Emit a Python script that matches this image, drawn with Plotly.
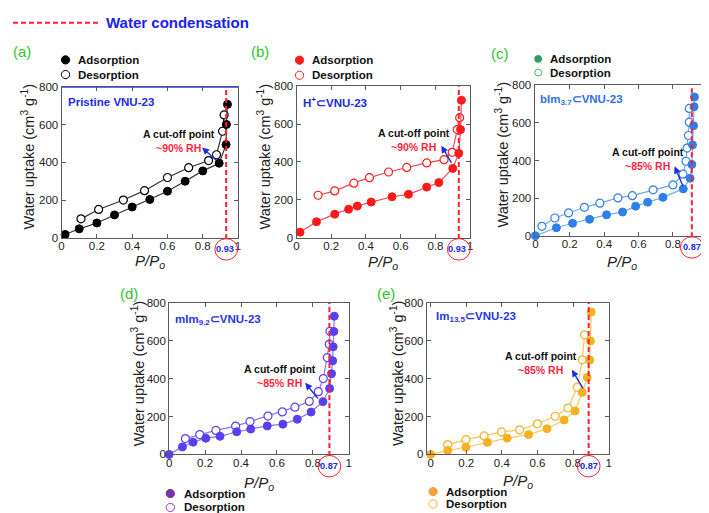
import plotly.graph_objects as go

W, H = 709, 513
FONT = "Arial, 'Liberation Sans', Helvetica, sans-serif"

# ---------------- data ----------------
# (a) Pristine VNU-23
a_ads_x = [0.02, 0.10, 0.20, 0.30, 0.40, 0.50, 0.60, 0.70, 0.80, 0.893, 0.932, 0.934, 0.94]
a_ads_y = [17, 47, 78, 121, 163, 203, 247, 300, 355, 396, 495, 602, 709]
a_des_x = [0.11, 0.21, 0.35, 0.47, 0.60, 0.72, 0.833, 0.878, 0.912, 0.921]
a_des_y = [100, 150, 200, 250, 320, 372, 410, 441, 566, 653]

# (b) H+ ⊂ VNU-23
b_ads_x = [0.02, 0.115, 0.22, 0.30, 0.35, 0.43, 0.55, 0.645, 0.75, 0.82, 0.90, 0.935, 0.945, 0.95]
b_ads_y = [29, 84, 124, 150, 167, 188, 216, 229, 267, 291, 366, 446, 571, 726]
b_des_x = [0.124, 0.22, 0.33, 0.42, 0.53, 0.635, 0.75, 0.85, 0.897, 0.926, 0.94]
b_des_y = [224, 247, 288, 317, 347, 371, 395, 412, 451, 571, 634]

# (c) bIm3.7 ⊂ VNU-23
c_ads_x = [0.0, 0.122, 0.216, 0.315, 0.414, 0.507, 0.583, 0.653, 0.742, 0.86, 0.90, 0.91, 0.914, 0.92, 0.923, 0.925]
c_ads_y = [0, 42, 66, 87, 111, 126, 157, 178, 204, 249, 305, 379, 483, 585, 686, 738]
c_des_x = [0.038, 0.113, 0.193, 0.285, 0.375, 0.48, 0.564, 0.685, 0.80, 0.858, 0.876, 0.882, 0.89, 0.895, 0.895]
c_des_y = [50, 94, 121, 151, 173, 201, 213, 244, 270, 327, 396, 466, 533, 604, 677]

# (d) mIm9.2 ⊂ VNU-23
d_ads_x = [0.0, 0.074, 0.133, 0.204, 0.283, 0.376, 0.454, 0.546, 0.633, 0.713, 0.79, 0.856, 0.893, 0.904, 0.91, 0.913, 0.917, 0.919]
d_ads_y = [0, 40, 65, 86, 96, 120, 134, 151, 160, 186, 224, 279, 349, 427, 495, 569, 650, 731]
d_des_x = [0.09, 0.17, 0.26, 0.37, 0.45, 0.55, 0.63, 0.70, 0.78, 0.83, 0.858, 0.88, 0.891, 0.895]
d_des_y = [84, 105, 127, 150, 174, 203, 225, 250, 280, 332, 401, 512, 582, 651]

# (e) Im13.5 ⊂ VNU-23
e_ads_x = [0.0, 0.096, 0.198, 0.319, 0.43, 0.55, 0.654, 0.75, 0.811, 0.852, 0.88, 0.894, 0.898, 0.902]
e_ads_y = [0, 21, 38, 64, 86, 105, 136, 182, 230, 328, 407, 499, 600, 753]
e_des_x = [0.096, 0.198, 0.30, 0.398, 0.50, 0.60, 0.70, 0.772, 0.824, 0.852, 0.865]
e_des_y = [52, 78, 98, 119, 130, 162, 202, 245, 355, 500, 632]

panel_letters = ["(a)", "(b)", "(c)", "(d)", "(e)"]
panel_names = ["Pristine VNU-23", "H<sup>+</sup>⊂VNU-23", "bIm<sub>3.7</sub>⊂VNU-23",
               "mIm<sub>9.2</sub>⊂VNU-23", "Im<sub>13.5</sub>⊂VNU-23"]
cutoff_x = [0.933, 0.935, 0.91, 0.892, 0.888]
cutoff_labels = ["0.93", "0.93", "0.87", "0.87", "0.87"]
cutoff_rh = ["~90% RH", "~90% RH", "~85% RH", "~85% RH", "~85% RH"]
x_ticks = [0, 0.2, 0.4, 0.6, 0.8, 1]
x_ticktext = ["0", "0.2", "0.4", "0.6", "0.8", "1"]
y_ticks = [0, 200, 400, 600, 800]
y_ticktext = ["0", "200", "400", "600", "800"]

# ---------------- styling / layout geometry (pixels) ----------------
panels = [
    dict(ax=a_ads_x, ay=a_ads_y, dx=a_des_x, dy=a_des_y, box=(51, 229, 75, 229), xr=[0, 1],
         col="#000000", line="#333333", leg=("#000000", "#000000"), msz=8, name_col="#1a2ae6",
         letter=(0, 38), legpos=(55, 66, 47, 62), namepos=(55, 90),
         cut=(169, 130), arrow=((192.7, 136.7), (208.3, 150.7)),
         ytitle=(17, 146), xtitle_y=253, lab_dx=-1.5),
    dict(ax=b_ads_x, ay=b_ads_y, dx=b_des_x, dy=b_des_y, box=(288, 463, 74, 229), xr=[0, 1],
         col="#ff1a1a", line="#f2485a", leg=("#ff1a1a", "#ff1a1a"), msz=8, name_col="#1a2ae6",
         letter=(240, 38), legpos=(291, 302, 47.3, 62.7), namepos=(292, 90),
         cut=(406, 129.5), arrow=((434, 135), (445, 153.3)),
         ytitle=(255, 146), xtitle_y=254, lab_dx=-2),
    dict(ax=c_ads_x, ay=c_ads_y, dx=c_des_x, dy=c_des_y, box=(528, 704, 73, 227), xr=[-0.005, 1.01],
         col="#2f7fe8", line="#6ea8f0", leg=("#2e9e62", "#3cb56e"), msz=8, name_col="#2f6fe6",
         letter=(482, 40), legpos=(531.7, 542, 46, 60), namepos=(532, 88),
         cut=(642, 148.5), arrow=((669.3, 156), (678.3, 177.3)),
         ytitle=(495, 144), xtitle_y=254, lab_dx=0),
    dict(ax=d_ads_x, ay=d_ads_y, dx=d_des_x, dy=d_des_y, box=(159.5, 340.7, 296, 451), xr=[0, 1],
         col="#5a3ff0", line="#8a72f2", leg=("#7a2ea8", "#8a44c8"), msz=8, name_col="#2a36e6",
         letter=(108, 286), legpos=(160.7, 172, 491, 505.3), namepos=(163, 313),
         cut=(271, 370.5), arrow=((296.7, 377.7), (310.7, 395)),
         ytitle=(128, 368), xtitle_y=481, lab_dx=0),
    dict(ax=e_ads_x, ay=e_ads_y, dx=e_des_x, dy=e_des_y, box=(419.3, 602.7, 296, 451), xr=[-0.022, 1],
         col="#f6b022", line="#f8c752", leg=("#f2a040", "#f2b233"), msz=8, name_col="#2a36e6",
         letter=(367, 286), legpos=(425.7, 437, 489, 501.7), namepos=(427, 310),
         cut=(535, 357.5), arrow=((565.7, 364.3), (577.7, 384.3)),
         ytitle=(390, 368), xtitle_y=479, lab_dx=0.5),
]


def PX(px):
    return px / W


def PY(py):
    return 1 - py / H


fig = go.Figure()
shapes = []
annotations = []
DASH = "5px,3px"

for i, p in enumerate(panels):
    sfx = "" if i == 0 else str(i + 1)
    xa, ya = "x" + sfx, "y" + sfx
    l, r, t, b = p["box"]

    fig.add_trace(go.Scatter(
        x=p["dx"], y=p["dy"], mode="lines+markers", xaxis=xa, yaxis=ya,
        line=dict(color=p["line"], width=1.2),
        marker=dict(size=p["msz"], color="white", line=dict(color=p["col"], width=1.2)),
        cliponaxis=False, showlegend=False, name="Desorption"))
    fig.add_trace(go.Scatter(
        x=p["ax"], y=p["ay"], mode="lines+markers", xaxis=xa, yaxis=ya,
        line=dict(color=p["line"], width=1.2),
        marker=dict(size=p["msz"], color=p["col"], line=dict(color=p["col"], width=1)),
        cliponaxis=False, showlegend=False, name="Adsorption"))

    axis_common = dict(showline=True, linecolor="#5a5a5a", linewidth=1, mirror="ticks",
                       ticks="inside", ticklen=4, tickcolor="#5a5a5a", showgrid=False,
                       zeroline=False, tickfont=dict(family=FONT, size=11.5, color="#222"))
    fig.update_layout(**{
        "xaxis" + sfx: dict(domain=[PX(l), PX(r)], range=p["xr"], anchor=ya,
                            tickvals=x_ticks, ticktext=x_ticktext, ticklabelstandoff=-2, **axis_common),
        "yaxis" + sfx: dict(domain=[PY(b), PY(t)], range=[0, 800], anchor=xa,
                            tickvals=y_ticks, ticktext=y_ticktext, **axis_common),
    })

    # data x -> pixel
    def dx2px(v, l=l, r=r, xr=p["xr"]):
        return l + (v - xr[0]) / (xr[1] - xr[0]) * (r - l)

    cx = dx2px(cutoff_x[i])
    cy = b + 12
    # red dashed condensation line
    shapes.append(dict(type="line", xref="paper", yref="paper", x0=PX(cx), x1=PX(cx),
                       y0=PY(b + 1.5), y1=PY(t), line=dict(color="#ff1f2f", width=2, dash=DASH)))
    # circle around cut-off value
    shapes.append(dict(type="circle", xref="paper", yref="paper",
                       x0=PX(cx - 11.5), x1=PX(cx + 11.5), y0=PY(cy + 11), y1=PY(cy - 11),
                       line=dict(color="#ff1f2f", width=1)))
    annotations.append(dict(text="<b>%s</b>" % cutoff_labels[i], xref="paper", yref="paper",
                            x=PX(cx + p["lab_dx"]), y=PY(cy - 0.5), showarrow=False,
                            xanchor="center", yanchor="middle",
                            font=dict(family=FONT, size=9.2, color="#1a2ae6")))

    # panel letter
    lx, ly = p["letter"]
    annotations.append(dict(text=panel_letters[i], xref="paper", yref="paper", x=PX(lx), y=PY(ly),
                            xanchor="left", yanchor="middle", showarrow=False,
                            font=dict(family=FONT, size=15, color="#2cc62c")))
    # legend (drawn)
    mx, tx, y1, y2 = p["legpos"]
    rr = 4.2 if i != 2 else 3.5
    shapes.append(dict(type="circle", xref="paper", yref="paper", x0=PX(mx - rr), x1=PX(mx + rr),
                       y0=PY(y1 + rr), y1=PY(y1 - rr), fillcolor=p["leg"][0],
                       line=dict(color=p["leg"][0], width=1)))
    shapes.append(dict(type="circle", xref="paper", yref="paper", x0=PX(mx - rr), x1=PX(mx + rr),
                       y0=PY(y2 + rr), y1=PY(y2 - rr), fillcolor="white",
                       line=dict(color=p["leg"][1], width=1)))
    for txt, yy in (("Adsorption", y1), ("Desorption", y2)):
        annotations.append(dict(text="<b>%s</b>" % txt, xref="paper", yref="paper", x=PX(tx), y=PY(yy),
                                xanchor="left", yanchor="middle", showarrow=False,
                                font=dict(family=FONT, size=11.5, color="#111")))
    # sample name
    nx, ny = p["namepos"]
    annotations.append(dict(text="<b>%s</b>" % panel_names[i], xref="paper", yref="paper",
                            x=PX(nx), y=PY(ny), xanchor="left", yanchor="middle", showarrow=False,
                            font=dict(family=FONT, size=11.5, color=p["name_col"])))
    # cut-off point text (two coloured lines)
    annotations.append(dict(text="<b>A cut-off point</b><br><b><span style='color:#ff1f3f'>%s</span></b>"
                                 % cutoff_rh[i], xref="paper", yref="paper",
                            x=PX(p["cut"][0]), y=PY(p["cut"][1]), xanchor="center", yanchor="middle",
                            align="center", showarrow=False,
                            font=dict(family=FONT, size=10.5, color="#111")))
    (tipx, tipy), (tailx, taily) = p["arrow"]
    annotations.append(dict(text="", xref="paper", yref="paper", x=PX(tipx), y=PY(tipy),
                            ax=tailx - tipx, ay=taily - tipy, axref="pixel", ayref="pixel",
                            showarrow=True, arrowhead=2, arrowsize=1, arrowwidth=1.4,
                            arrowcolor="#1530e0"))
    # axis titles
    yx, yy = p["ytitle"]
    annotations.append(dict(text="Water uptake (cm<sup>3</sup> g<sup>-1</sup>)", xref="paper", yref="paper",
                            x=PX(yx), y=PY(yy), xanchor="center", yanchor="middle", textangle=-90,
                            showarrow=False, font=dict(family=FONT, size=14.5, color="#222")))
    annotations.append(dict(text="<i>P/P<sub>o</sub></i>", xref="paper", yref="paper",
                            x=PX((l + r) / 2), y=PY(p["xtitle_y"]), xanchor="center", yanchor="middle",
                            showarrow=False, font=dict(family=FONT, size=15, color="#222")))

# blue top border of panel (a)
l, r, t, b = panels[0]["box"]
shapes.append(dict(type="line", xref="paper", yref="paper", x0=PX(l), x1=PX(r), y0=PY(t), y1=PY(t),
                   line=dict(color="#2a3ae6", width=1)))

# figure-level key: water condensation
shapes.append(dict(type="line", xref="paper", yref="paper", x0=PX(2), x1=PX(88), y0=PY(9), y1=PY(9),
                   line=dict(color="#ff1f2f", width=2, dash=DASH)))
annotations.append(dict(text="<b>Water condensation</b>", xref="paper", yref="paper", x=PX(94), y=PY(9),
                        xanchor="left", yanchor="middle", showarrow=False,
                        font=dict(family=FONT, size=15, color="#1a22ee")))

fig.update_layout(width=W, height=H, margin=dict(l=0, r=0, t=0, b=0),
                  paper_bgcolor="white", plot_bgcolor="white", showlegend=False,
                  shapes=shapes, annotations=annotations, font=dict(family=FONT))

fig.write_html("out.html")
